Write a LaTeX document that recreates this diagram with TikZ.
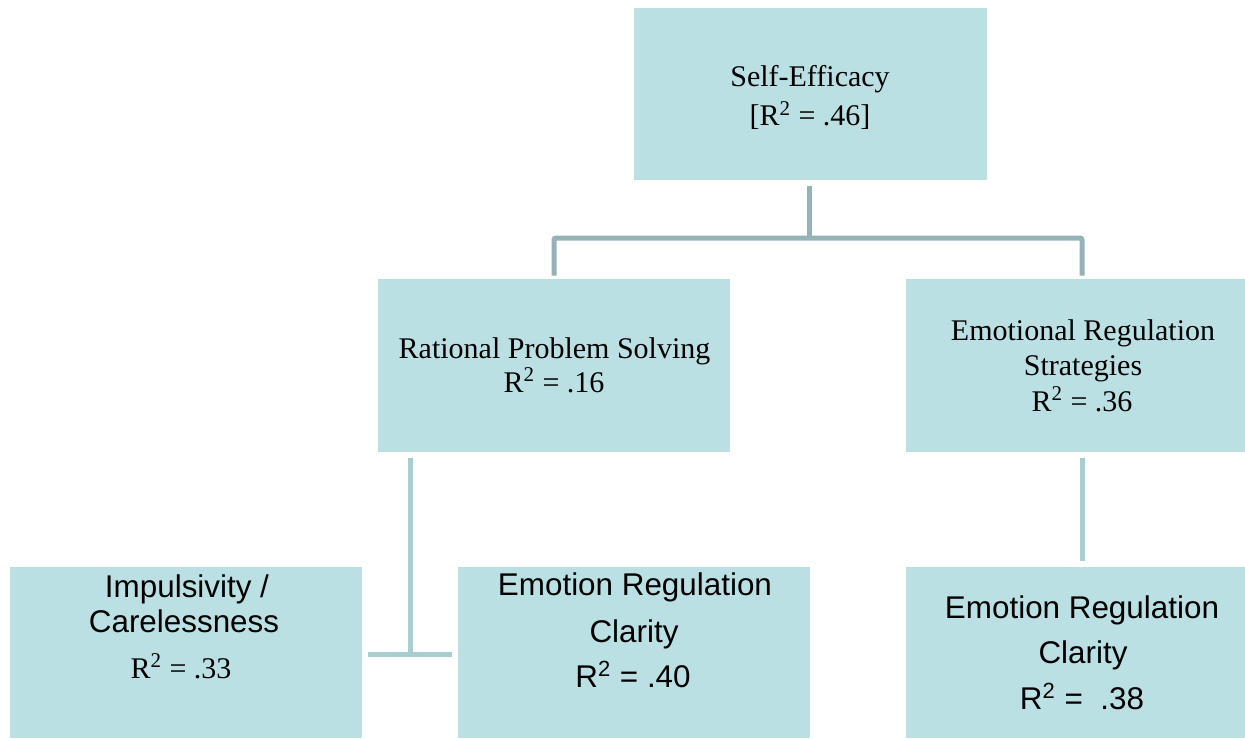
\documentclass[tikz,border=0pt]{standalone}
\usepackage{fontspec}
\setmainfont{Liberation Serif}
\setsansfont{Liberation Sans}
\usetikzlibrary{fit}

\definecolor{boxfill}{HTML}{BBE0E3}
\definecolor{trunk}{HTML}{95B3B7}
\definecolor{branch}{HTML}{A9CED2}

\tikzset{
  box/.style={fill=boxfill, draw=none, inner sep=0pt},
  topline/.style={draw=trunk, line width=2.5pt},
  lowline/.style={draw=branch, line width=2.5pt},
  serif/.style={anchor=base, inner sep=0pt, font=\fontsize{15}{18}\selectfont\rmfamily},
  sans/.style={anchor=base, inner sep=0pt, font=\fontsize{15.7}{19}\selectfont\sffamily}
}

\begin{document}
\begin{tikzpicture}[x=0.5pt, y=-0.5pt]
\useasboundingbox (0,0) rectangle (1245,738);

% boxes
\node[box, fit={(634,8) (987,180)}] (se) {};
\node[box, fit={(378,279) (730,452)}] (rps) {};
\node[box, fit={(906,279) (1258,452)}] (ers) {};
\node[box, fit={(10,567) (362,738)}] (imp) {};
\node[box, fit={(458,567) (810,738)}] (erc1) {};
\node[box, fit={(906,567) (1258,738)}] (erc2) {};

% upper connector
\coordinate (hub) at (809,238);
\draw[topline, shorten <=3pt] (se.south -| hub) -- (hub);
\draw[topline, rounded corners=1pt] ([yshift=1.5pt]rps.north) |- (hub) -| ([yshift=1.5pt]ers.north);

% lower connectors
\coordinate (tee) at (410,654);
\draw[lowline, shorten <=3pt] (rps.south -| tee) -- (tee);
\draw[lowline, shorten <=3pt, shorten >=3pt] (imp.east |- tee) -- (erc1.west |- tee);
\draw[lowline, shorten <=3pt, shorten >=3pt] (ers.south) -- (erc2.north);

% texts
\node[serif] (se1) at (810,87) {Self-Efficacy};
\node[serif] (se2) at (810,126) {[R\textsuperscript{2} = .46]};

\node[serif] (rps1) at (554.5,358) {Rational Problem Solving};
\node[serif] (rps2) at (554,392) {R\textsuperscript{2} = .16};

\node[serif] (ers1) at (1083,340) {Emotional Regulation};
\node[serif] (ers2) at (1083,375) {Strategies};
\node[serif] (ers3) at (1082,411) {R\textsuperscript{2} = .36};

\node[sans] (imp1) at (187,597) {Impulsivity /};
\node[sans] (imp2) at (184,632) {Carelessness};
\node[serif] (imp3) at (181,678) {R\textsuperscript{2} = .33};

\node[sans] (ea1) at (635,595) {Emotion Regulation};
\node[sans] (ea2) at (634,642) {Clarity};
\node[sans] (ea3) at (633,687) {R\textsuperscript{2} = .40};

\node[sans] (eb1) at (1082,618) {Emotion Regulation};
\node[sans] (eb2) at (1083,663) {Clarity};
\node[sans] (eb3) at (1082,709) {R\textsuperscript{2} =~ .38};
\end{tikzpicture}
\end{document}
